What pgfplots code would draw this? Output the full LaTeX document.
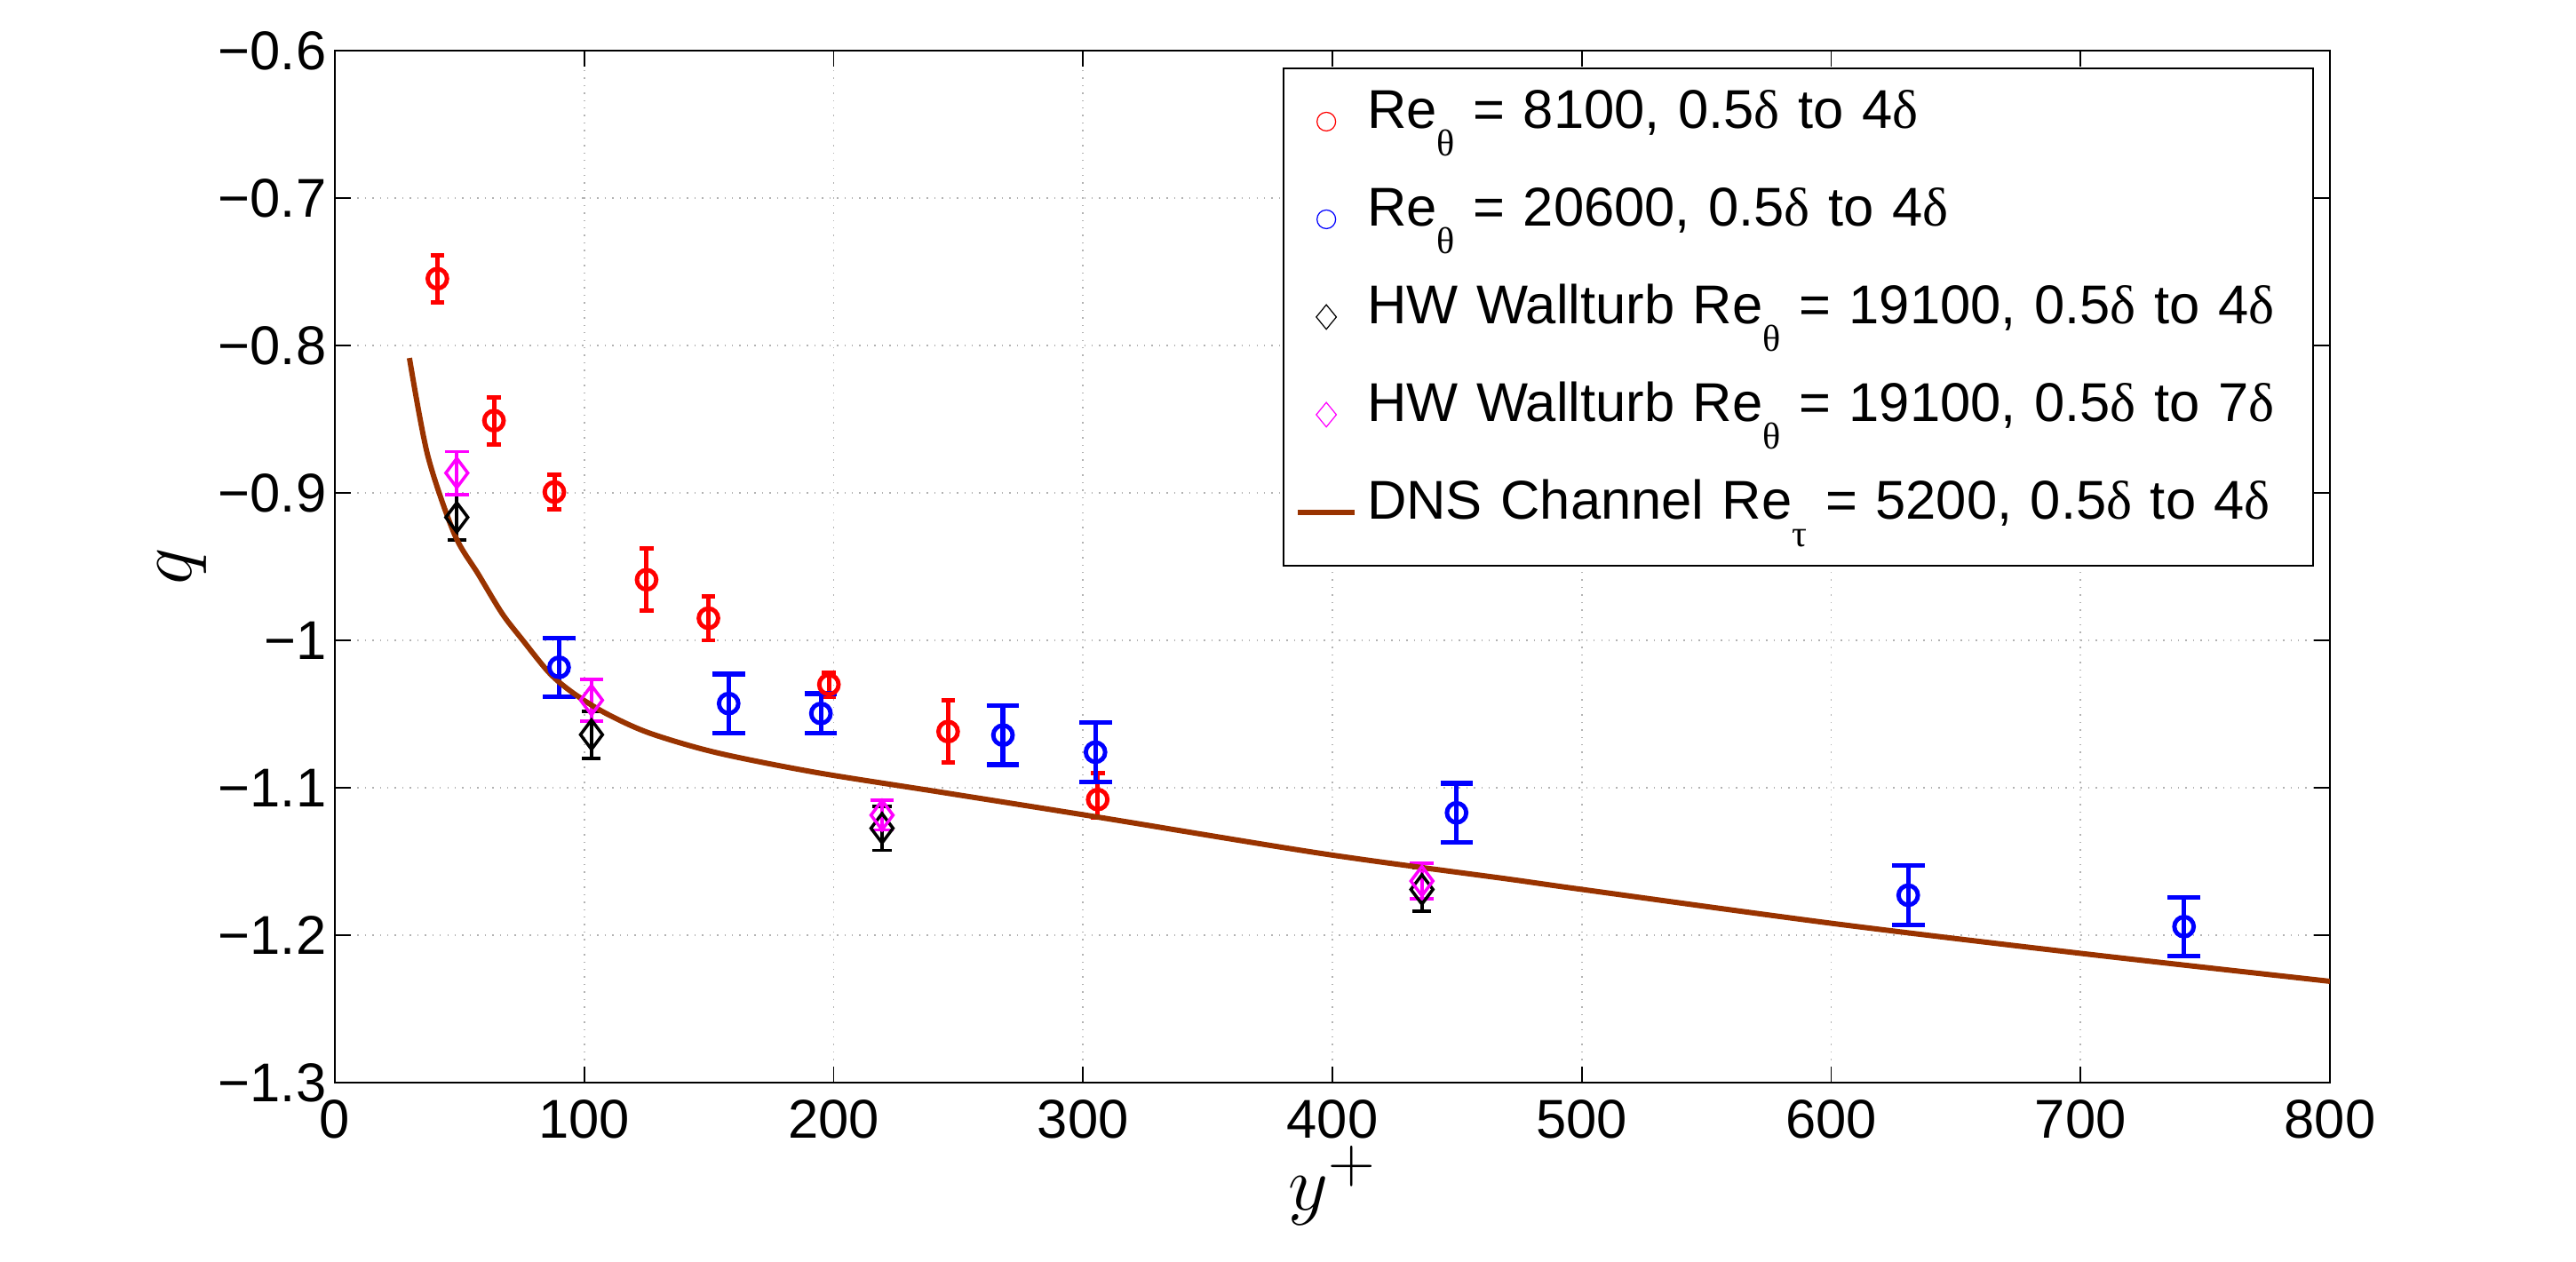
\documentclass[border=0pt]{standalone}
\usepackage{pgfplots}
\usepackage{pgfplotstable}
\pgfplotsset{compat=1.18}
\usepackage{fontspec}
\setmainfont{Liberation Sans}
\newfontfamily\grk{Liberation Serif}

\definecolor{dnsbrown}{rgb}{0.6,0.2,0}
\definecolor{wtmag}{rgb}{1,0,1}

% subscript Greek letter set low, as in the legend
\newcommand\sub[1]{\raisebox{-0.31cm}{\fontsize{12}{12}\selectfont\grk #1}}
\newcommand\dl{{\grk δ}}

% Re_theta = 8100
\pgfplotstableread{
x y ep em
41.1 -0.7547 0.016 0.016
63.8 -0.8510 0.016 0.016
88.0 -0.8994 0.0115 0.0115
125.0 -0.9589 0.021 0.021
149.8 -0.9850 0.015 0.015
198.1 -1.0300 0.008 0.008
245.9 -1.0619 0.021 0.021
305.9 -1.1080 0.018 0.012
}\redtab

% Re_theta = 20600
\pgfplotstableread{
x y ep em
89.9 -1.0183 0.020 0.020
157.9 -1.0429 0.020 0.020
194.9 -1.0496 0.0135 0.0135
267.9 -1.0643 0.020 0.020
305.0 -1.0759 0.020 0.020
449.8 -1.1170 0.020 0.020
630.9 -1.1729 0.020 0.020
741.5 -1.1942 0.020 0.020
}\bluetab

% HW Wallturb, 0.5 delta to 4 delta
\pgfplotstableread{
x y ep em
48.9 -0.9166 0.0155 0.0155
102.9 -1.0640 0.016 0.016
219.4 -1.1275 0.015 0.015
435.9 -1.1690 0.015 0.015
}\blacktab

% HW Wallturb, 0.5 delta to 7 delta
\pgfplotstableread{
x y ep em
48.9 -0.8865 0.0145 0.0145
102.9 -1.0406 0.014 0.014
219.4 -1.1186 0.010 0.010
435.9 -1.1633 0.012 0.012
}\magtab

% DNS channel Re_tau = 5200
\pgfplotstableread{
x y
29.9 -0.8085
37.2 -0.8744
48.0 -0.9282
57.5 -0.9551
67.1 -0.9819
75.0 -0.9992
86.1 -1.0223
95.6 -1.0358
108.3 -1.0492
125.8 -1.0627
152.8 -1.0761
192.5 -1.0895
243.0 -1.1030
305.9 -1.1199
396.4 -1.1448
470.8 -1.1620
500.2 -1.1690
600.8 -1.1921
701.4 -1.2126
800.0 -1.2313
}\dnstab

\begin{document}
\begin{tikzpicture}
\path[use as bounding box] (-3.77,-2.02) rectangle (25.23,12.19);
\begin{axis}[
  at={(0,0)}, anchor=south west,
  scale only axis, width=22.46cm, height=11.62cm,
  xmin=0, xmax=800, ymin=-1.3, ymax=-0.6,
  xtick={0,100,200,300,400,500,600,700,800},
  xticklabels={0,100,200,300,400,500,600,700,800},
  ytick={-1.3,-1.2,-1.1,-1.0,-0.9,-0.8,-0.7,-0.6},
  yticklabels={−1.3,−1.2,−1.1,−1,−0.9,−0.8,−0.7,−0.6},
  tick align=inside, major tick length=0.18cm,
  tick style={black, line width=0.5pt},
  axis line style={line width=0.5pt},
  grid=major, major grid style={dotted, gray!60, line width=0.5pt},
  tick label style={font=\fontsize{17.5}{21}\selectfont},
  yticklabel style={inner sep=0pt, anchor=east, xshift=-0.09cm},
  xticklabel style={inner sep=0pt, anchor=north, yshift=-0.19cm},
  xlabel={$y^+$}, ylabel={$q$},
  every axis x label/.style={at={(axis description cs:0.5,-0.1239)}, anchor=base,
    font=\fontsize{28}{34}\selectfont},
  every axis y label/.style={at={(axis description cs:-0.0766,0.5)}, rotate=90, anchor=center,
    font=\fontsize{29}{35}\selectfont},
  legend cell align=left,
  legend style={at={(0.992,0.9836)}, anchor=north east,
    draw=black, line width=0.5pt, fill=white,
    inner xsep=0.13cm, inner ysep=0.05cm, column sep=0.11cm, row sep=0pt,
    font=\fontsize{17.5}{21}\selectfont,
    nodes={inner sep=0pt, text height=0.63cm, text depth=0.47cm, text width=10.52cm}},
]

\addplot[red, only marks, mark=o,
  mark options={line width=1.4pt, mark size=3.1pt},
  legend image code/.code={\draw[red, line width=0.35pt] (0.32cm,0cm) circle[radius=0.105cm];},
  error bars/.cd, y dir=both, y explicit,
  error bar style={line width=1.4pt},
  error mark options={rotate=90, line width=1.4pt, mark size=2.2pt}]
  table[x=x, y=y, y error plus=ep, y error minus=em] {\redtab};
\addlegendentry{Re\sub{θ} = 8100, 0.5\dl{} to 4\dl}

\addplot[blue, only marks, mark=o,
  mark options={line width=1.4pt, mark size=3.1pt},
  legend image code/.code={\draw[blue, line width=0.35pt] (0.32cm,0cm) circle[radius=0.105cm];},
  error bars/.cd, y dir=both, y explicit,
  error bar style={line width=1.5pt},
  error mark options={rotate=90, line width=1.5pt, mark size=5.2pt}]
  table[x=x, y=y, y error plus=ep, y error minus=em] {\bluetab};
\addlegendentry{Re\sub{θ} = 20600, 0.5\dl{} to 4\dl}

\addplot[black, only marks, mark=diamond,
  mark options={line width=1pt, mark size=4.7pt},
  legend image code/.code={\draw[black, line width=0.35pt] (0.32cm,0.138cm) -- (0.433cm,0cm) -- (0.32cm,-0.138cm) -- (0.207cm,0cm) -- cycle;},
  error bars/.cd, y dir=both, y explicit,
  error bar style={line width=1.1pt},
  error mark options={rotate=90, line width=1.1pt, mark size=3.0pt}]
  table[x=x, y=y, y error plus=ep, y error minus=em] {\blacktab};
\addlegendentry{HW Wallturb Re\sub{θ} = 19100, 0.5\dl{} to 4\dl}

\addplot[wtmag, only marks, mark=diamond,
  mark options={line width=1pt, mark size=4.7pt},
  legend image code/.code={\draw[wtmag, line width=0.35pt] (0.32cm,0.138cm) -- (0.433cm,0cm) -- (0.32cm,-0.138cm) -- (0.207cm,0cm) -- cycle;},
  error bars/.cd, y dir=both, y explicit,
  error bar style={line width=1.1pt},
  error mark options={rotate=90, line width=1.1pt, mark size=3.8pt}]
  table[x=x, y=y, y error plus=ep, y error minus=em] {\magtab};
\addlegendentry{HW Wallturb Re\sub{θ} = 19100, 0.5\dl{} to 7\dl}

\addplot[dnsbrown, line width=1.7pt, no marks, smooth,
  legend image code/.code={\draw[dnsbrown, line width=1.7pt] (0cm,0cm) -- (0.64cm,0cm);}]
  table[x=x, y=y] {\dnstab};
\addlegendentry{DNS Channel Re\sub{τ} = 5200, 0.5\dl{} to 4\dl}

\end{axis}
\end{tikzpicture}
\end{document}
